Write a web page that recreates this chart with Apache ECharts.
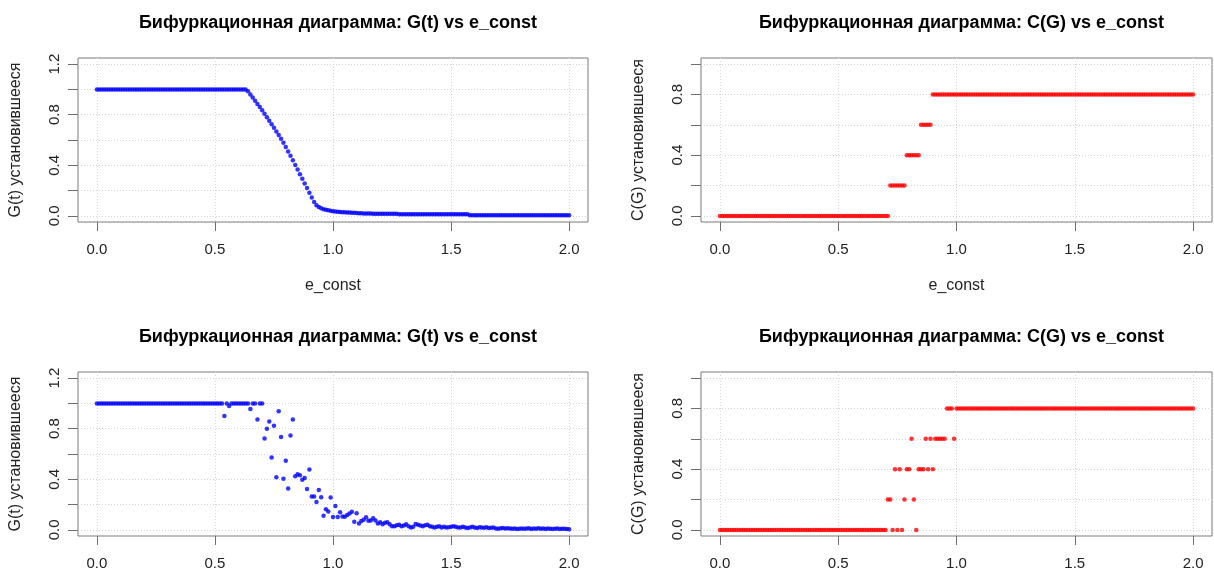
<!DOCTYPE html>
<html><head><meta charset="utf-8">
<script src="https://cdn.jsdelivr.net/npm/echarts@6/dist/echarts.min.js"></script>
<style>html,body{margin:0;padding:0;background:#fff}#c{width:1214px;height:571px}</style>
</head><body><div id="c"></div>
<script>
// ---- data ----
const eConst = [
0.00,0.01,0.02,0.03,0.04,0.05,0.06,0.07,0.08,0.09,0.10,0.11,0.12,0.13,0.14,0.15,0.16,0.17,0.18,0.19,
0.20,0.21,0.22,0.23,0.24,0.25,0.26,0.27,0.28,0.29,0.30,0.31,0.32,0.33,0.34,0.35,0.36,0.37,0.38,0.39,
0.40,0.41,0.42,0.43,0.44,0.45,0.46,0.47,0.48,0.49,0.50,0.51,0.52,0.53,0.54,0.55,0.56,0.57,0.58,0.59,
0.60,0.61,0.62,0.63,0.64,0.65,0.66,0.67,0.68,0.69,0.70,0.71,0.72,0.73,0.74,0.75,0.76,0.77,0.78,0.79,
0.80,0.81,0.82,0.83,0.84,0.85,0.86,0.87,0.88,0.89,0.90,0.91,0.92,0.93,0.94,0.95,0.96,0.97,0.98,0.99,
1.00,1.01,1.02,1.03,1.04,1.05,1.06,1.07,1.08,1.09,1.10,1.11,1.12,1.13,1.14,1.15,1.16,1.17,1.18,1.19,
1.20,1.21,1.22,1.23,1.24,1.25,1.26,1.27,1.28,1.29,1.30,1.31,1.32,1.33,1.34,1.35,1.36,1.37,1.38,1.39,
1.40,1.41,1.42,1.43,1.44,1.45,1.46,1.47,1.48,1.49,1.50,1.51,1.52,1.53,1.54,1.55,1.56,1.57,1.58,1.59,
1.60,1.61,1.62,1.63,1.64,1.65,1.66,1.67,1.68,1.69,1.70,1.71,1.72,1.73,1.74,1.75,1.76,1.77,1.78,1.79,
1.80,1.81,1.82,1.83,1.84,1.85,1.86,1.87,1.88,1.89,1.90,1.91,1.92,1.93,1.94,1.95,1.96,1.97,1.98,1.99,
2.00];

// top-left: G(t) steady state
const gSteadyA = [
1,1,1,1,1,1,1,1,1,1,1,1,1,1,1,1,1,1,1,1,
1,1,1,1,1,1,1,1,1,1,1,1,1,1,1,1,1,1,1,1,
1,1,1,1,1,1,1,1,1,1,1,1,1,1,1,1,1,1,1,1,
1,1,1,1,0.985,0.96,0.935,0.91,0.885,0.86,0.835,0.808,0.78,0.752,0.725,0.697,0.668,0.64,0.61,0.578,
0.545,0.51,0.475,0.44,0.403,0.367,0.33,0.293,0.256,0.22,0.183,0.145,0.11,0.085,0.07,0.06,0.053,0.048,0.044,0.04,
0.037,0.035,0.033,0.031,0.03,0.029,0.028,0.027,0.026,0.025,0.024,0.021,0.021,0.02,0.02,0.02,0.019,0.017,0.017,0.017,
0.017,0.017,0.017,0.017,0.017,0.017,0.017,0.017,0.013,0.013,0.013,0.013,0.013,0.013,0.013,0.013,0.013,0.013,0.013,0.013,
0.013,0.013,0.013,0.013,0.013,0.013,0.013,0.013,0.013,0.013,0.013,0.013,0.013,0.013,0.013,0.013,0.013,0.013,0.006,0.006,
0.006,0.006,0.006,0.006,0.006,0.006,0.006,0.006,0.006,0.006,0.006,0.006,0.006,0.006,0.006,0.006,0.006,0.006,0.006,0.006,
0.006,0.005,0.005,0.005,0.005,0.005,0.005,0.005,0.005,0.005,0.005,0.005,0.005,0.005,0.005,0.005,0.005,0.005,0.005,0.005,
0.005];

// top-right: C(G) steady state
const cSteadyA = [
0,0,0,0,0,0,0,0,0,0,0,0,0,0,0,0,0,0,0,0,
0,0,0,0,0,0,0,0,0,0,0,0,0,0,0,0,0,0,0,0,
0,0,0,0,0,0,0,0,0,0,0,0,0,0,0,0,0,0,0,0,
0,0,0,0,0,0,0,0,0,0,0,0,0.2,0.2,0.2,0.2,0.2,0.2,0.2,0.4,
0.4,0.4,0.4,0.4,0.4,0.6,0.6,0.6,0.6,0.6,0.8,0.8,0.8,0.8,0.8,0.8,0.8,0.8,0.8,0.8,
0.8,0.8,0.8,0.8,0.8,0.8,0.8,0.8,0.8,0.8,0.8,0.8,0.8,0.8,0.8,0.8,0.8,0.8,0.8,0.8,
0.8,0.8,0.8,0.8,0.8,0.8,0.8,0.8,0.8,0.8,0.8,0.8,0.8,0.8,0.8,0.8,0.8,0.8,0.8,0.8,
0.8,0.8,0.8,0.8,0.8,0.8,0.8,0.8,0.8,0.8,0.8,0.8,0.8,0.8,0.8,0.8,0.8,0.8,0.8,0.8,
0.8,0.8,0.8,0.8,0.8,0.8,0.8,0.8,0.8,0.8,0.8,0.8,0.8,0.8,0.8,0.8,0.8,0.8,0.8,0.8,
0.8,0.8,0.8,0.8,0.8,0.8,0.8,0.8,0.8,0.8,0.8,0.8,0.8,0.8,0.8,0.8,0.8,0.8,0.8,0.8,
0.8];

// bottom-left: G(t) steady state (noisy run)
const gSteadyB = [
1,1,1,1,1,1,1,1,1,1,1,1,1,1,1,1,1,1,1,1,
1,1,1,1,1,1,1,1,1,1,1,1,1,1,1,1,1,1,1,1,
1,1,1,1,1,1,1,1,1,1,1,1,1,1,0.9,1,0.98,1,1,1,
1,1,1,1,1,0.955,1,1,0.872,1,1,0.723,0.80,0.856,0.572,0.824,0.416,0.938,0.734,0.405,
0.546,0.328,0.747,0.872,0.424,0.44,0.432,0.397,0.41,0.323,0.477,0.265,0.265,0.22,0.315,0.258,0.112,0.164,0.145,0.257,
0.103,0.189,0.103,0.139,0.106,0.105,0.118,0.13,0.144,0.065,0.132,0.05,0.07,0.08,0.1,0.073,0.074,0.093,0.075,0.05,
0.06,0.045,0.056,0.06,0.045,0.03,0.03,0.036,0.04,0.03,0.035,0.045,0.03,0.02,0.025,0.046,0.04,0.035,0.03,0.036,
0.04,0.03,0.025,0.02,0.025,0.03,0.02,0.026,0.02,0.021,0.026,0.03,0.025,0.02,0.019,0.025,0.02,0.015,0.02,0.026,
0.02,0.016,0.021,0.02,0.018,0.021,0.015,0.018,0.02,0.012,0.01,0.013,0.015,0.012,0.014,0.011,0.009,0.012,0.008,0.01,
0.012,0.009,0.011,0.014,0.008,0.012,0.01,0.013,0.009,0.011,0.008,0.012,0.01,0.007,0.01,0.012,0.008,0.01,0.009,0.007,
0.005];

// bottom-right: C(G) steady state (noisy run)
const cSteadyB = [
0,0,0,0,0,0,0,0,0,0,0,0,0,0,0,0,0,0,0,0,
0,0,0,0,0,0,0,0,0,0,0,0,0,0,0,0,0,0,0,0,
0,0,0,0,0,0,0,0,0,0,0,0,0,0,0,0,0,0,0,0,
0,0,0,0,0,0,0,0,0,0,0,0.2,0.2,0,0.4,0,0.4,0,0.2,0.4,
0.4,0.6,0.2,0,0.4,0.4,0.4,0.6,0.4,0.6,0.4,0.6,0.6,0.6,0.6,0.6,0.8,0.8,0.8,0.6,
0.8,0.8,0.8,0.8,0.8,0.8,0.8,0.8,0.8,0.8,0.8,0.8,0.8,0.8,0.8,0.8,0.8,0.8,0.8,0.8,
0.8,0.8,0.8,0.8,0.8,0.8,0.8,0.8,0.8,0.8,0.8,0.8,0.8,0.8,0.8,0.8,0.8,0.8,0.8,0.8,
0.8,0.8,0.8,0.8,0.8,0.8,0.8,0.8,0.8,0.8,0.8,0.8,0.8,0.8,0.8,0.8,0.8,0.8,0.8,0.8,
0.8,0.8,0.8,0.8,0.8,0.8,0.8,0.8,0.8,0.8,0.8,0.8,0.8,0.8,0.8,0.8,0.8,0.8,0.8,0.8,
0.8,0.8,0.8,0.8,0.8,0.8,0.8,0.8,0.8,0.8,0.8,0.8,0.8,0.8,0.8,0.8,0.8,0.8,0.8,0.8,
0.8];

const titleG = 'Бифуркационная диаграмма: G(t) vs e_const';
const titleC = 'Бифуркационная диаграмма: C(G) vs e_const';
const yNameG = 'G(t) установившееся';
const yNameC = 'C(G) установившееся';
const xName = 'e_const';
const xTicks = [0, 0.5, 1, 1.5, 2];
const yTicksG = [0, 0.2, 0.4, 0.6, 0.8, 1.0, 1.2];
const yLabelsG = [0, 0.4, 0.8, 1.2];
const yTicksC = [0, 0.2, 0.4, 0.6, 0.8, 1.0];
const yLabelsC = [0, 0.4, 0.8];

// ---- layout ----
const FONT = 'Liberation Sans, Arial, sans-serif';
const panels = [
  {box:[78, 58, 510, 164], title:titleG, yName:yNameG, data:gSteadyA, color:'#0000ff', yr:[-0.048,1.248], yt:yTicksG, yl:yLabelsG, showX:true},
  {box:[701, 58, 511, 164], title:titleC, yName:yNameC, data:cSteadyA, color:'#ff0000', yr:[-0.04,1.04], yt:yTicksC, yl:yLabelsC, showX:true},
  {box:[78, 372, 510, 164], title:titleG, yName:yNameG, data:gSteadyB, color:'#0000ff', yr:[-0.048,1.248], yt:yTicksG, yl:yLabelsG, showX:false},
  {box:[701, 372, 511, 164], title:titleC, yName:yNameC, data:cSteadyB, color:'#ff0000', yr:[-0.04,1.04], yt:yTicksC, yl:yLabelsC, showX:false}
];

const gridLine = {show:true, lineStyle:{color:'#d4d4d4', width:1, type:[1,2]}};
const tickStyle = {color:'#6e6e6e', width:1};
const option = {animation:false, backgroundColor:'#fff', title:[], grid:[], xAxis:[], yAxis:[], series:[]};

panels.forEach((p, i) => {
  const [l, t, w, h] = p.box;
  option.title.push({text:p.title, left:l + w/2, top:t - 49, textAlign:'center',
    textStyle:{fontFamily:FONT, fontWeight:'bold', fontSize:18, color:'#000'}});
  option.grid.push({left:l, top:t, width:w, height:h, show:true, borderColor:'#7a7a7a', borderWidth:1,
    backgroundColor:'transparent', containLabel:false, outerBoundsMode:'none'});
  option.xAxis.push({gridIndex:i, type:'value', min:-0.08, max:2.08,
    axisLine:{show:false, onZero:false},
    axisTick:{show:true, customValues:xTicks, length:9, lineStyle:tickStyle},
    axisLabel:{customValues:xTicks, formatter:v => v.toFixed(1), margin:20, fontSize:15, color:'#222', fontFamily:FONT},
    splitLine:gridLine,
    name:p.showX ? xName : '', nameLocation:'middle', nameGap:56,
    nameTextStyle:{fontFamily:FONT, fontSize:16, color:'#222'}});
  option.yAxis.push({gridIndex:i, type:'value', min:p.yr[0], max:p.yr[1],
    axisLine:{show:false, onZero:false},
    axisTick:{show:true, customValues:p.yt, length:10, lineStyle:tickStyle},
    axisLabel:{customValues:p.yl, formatter:v => v.toFixed(1), rotate:90, margin:16, fontSize:15, color:'#222', fontFamily:FONT},
    splitLine:gridLine,
    name:p.yName, nameLocation:'middle', nameRotate:90, nameGap:54,
    nameTextStyle:{fontFamily:FONT, fontSize:16, color:'#222'}});
  option.series.push({type:'scatter', xAxisIndex:i, yAxisIndex:i, silent:true,
    data:eConst.map((x, j) => [x, p.data[j]]),
    symbol:'circle', symbolSize:4.5, itemStyle:{color:p.color}});
});

const chart = echarts.init(document.getElementById('c'), null, {renderer:'canvas'});
chart.setOption(option);
</script>
</body></html>
